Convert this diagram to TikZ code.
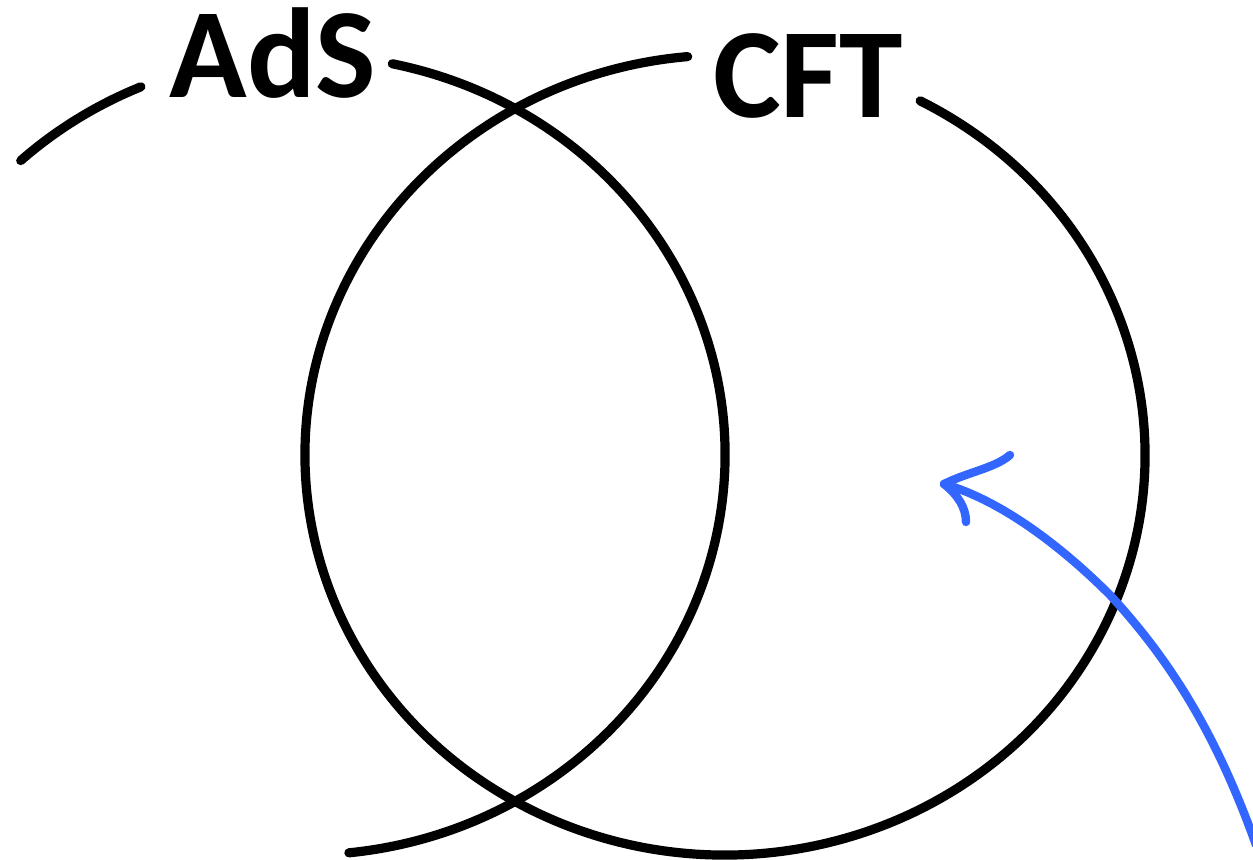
\documentclass[tikz,border=0pt]{standalone}
\usepackage{fontspec}
\setmainfont{Carlito}
\definecolor{penblue}{HTML}{3366FF}
\begin{document}
\begin{tikzpicture}[x=0.5pt,y=-0.5pt,
  ring/.style={draw=black,line width=4.6pt,line cap=round},
  lbl/.style={font=\fontsize{64pt}{64pt}\selectfont\bfseries,inner sep=0pt,anchor=base},
  pen/.style={draw=penblue,line width=4.2pt,line cap=round,line join=round}]
\useasboundingbox (0,0) rectangle (1253,859);
\coordinate (cA) at (305,455);
\coordinate (cB) at (725,455);
% AdS ellipse (two pieces, gap for label)
\draw[ring] (cA) ++(-132.6:420 and 400) arc[start angle=-132.6,end angle=-113,x radius=420,y radius=400];
\draw[ring] (cA) ++(-78:420 and 400) arc[start angle=-78,end angle=84,x radius=420,y radius=400];
% CFT ellipse
\draw[ring] (cB) ++(-62.3:420 and 400) arc[start angle=-62.3,end angle=264.9,x radius=420,y radius=400];
% labels
\node[lbl] (ads) at (273,97) {AdS};
\node[lbl] (cft) at (808,117) {CFT};
% blue arrow
\coordinate (tip) at (944,484);
\coordinate (mid) at (1110,595);
\coordinate (tail) at (1256,845);
\draw[pen] (tail) .. controls (1216,733) and (1170,660) .. (mid)
                  .. controls (1060,545) and (1000,500) .. (tip);
\draw[pen] (tip) .. controls (968,472) and (995,468) .. (1010,455);
\draw[pen] (tip) .. controls (958,495) and (966,508) .. (966,522);
\end{tikzpicture}
\end{document}
